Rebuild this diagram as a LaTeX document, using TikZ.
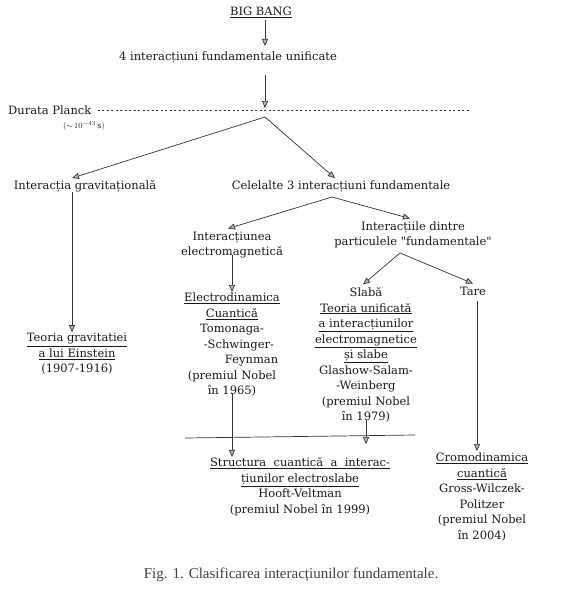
\documentclass[tikz,border=0pt]{standalone}
\usepackage{fontspec}
\setmainfont{DejaVu Serif}
\newfontfamily\capfont{Liberation Serif}
\usetikzlibrary{positioning,arrows.meta,calc}
\newcommand{\undl}[1]{\underline{#1}}
\tikzset{
  flowarrow/.style={-{Triangle[length=7pt,width=6pt,fill=gray!55]}, line width=0.7pt, black!80},
  plainline/.style={line width=0.7pt, black!80},
  lbl/.style={inner sep=0pt, align=center, font=\fontsize{11.5}{15.5}\selectfont, text=black!90},
  smalllbl/.style={inner sep=0pt, font=\fontsize{8}{9}\selectfont, text=black!85}
}
\begin{document}
\begin{tikzpicture}[x=1pt, y=-1pt]
  \useasboundingbox (0,0) rectangle (560,610);
  % top of the tree
  \node[lbl] (bigbang) at (261,12) {\undl{BIG BANG}};
  \node[lbl] (unif) at (228,57) {4 interacțiuni fundamentale unificate};
  \node[lbl, anchor=west] (planck) at (8,110) {Durata Planck};
  \node[smalllbl] (plancktime) at (84,126) {$(\sim\!10^{-43}$\,s$)$};
  \coordinate (bbfoot) at (265,20);
  \coordinate (uniftop) at (265,46);
  \coordinate (uniffoot) at (265,75);
  \coordinate (plk) at (265,108);
  \coordinate (apex) at (265,117);
  \coordinate (dashend) at (470,110);
  \draw[flowarrow] (bbfoot) -- (uniftop);
  \draw[flowarrow] (uniffoot) -- (plk);
  \draw[plainline, dashed, dash pattern=on 2pt off 2.5pt, line width=0.4pt] ([xshift=6pt]planck.east) -- (dashend);
  % first split
  \node[lbl] (grav) at (85,186) {Interacția gravitațională};
  \node[lbl] (rest) at (341,186) {Celelalte 3 interacțiuni fundamentale};
  \draw[flowarrow] (apex) -- ([xshift=-13pt,yshift=2pt]grav.north);
  \draw[flowarrow] (apex) -- ([xshift=-6pt,yshift=2pt]rest.north);
  % gravitation
  \node[lbl] (einst) at (77,354) {\undl{Teoria gravitatiei}\\ \undl{a lui Einstein}\\ (1907-1916)};
  \draw[flowarrow] ([xshift=-13pt]grav.south) -- ([xshift=-5pt,yshift=1pt]einst.north);
  % second split
  \coordinate (apex2) at (332,197);
  \node[lbl] (em) at (232,245) {Interacțiunea\\ electromagnetică};
  \node[lbl] (part) at (413,235) {Interacțiile dintre\\ particulele \textquotedbl fundamentale\textquotedbl};
  \draw[flowarrow] (apex2) -- ([xshift=-4pt,yshift=3pt]em.north);
  \draw[flowarrow] (apex2) -- ([xshift=-3pt,yshift=3pt]part.north);
  % electromagnetic branch
  \node[lbl] (qed) at (232,345) {\undl{Electrodinamica}\\ \undl{Cuantică}\\ Tomonaga-\hspace*{2.6em}\\ \hspace*{1.2em}-Schwinger-\\ \hspace*{3.4em}Feynman\\ (premiul Nobel\\ în 1965)};
  \draw[flowarrow] ([yshift=3pt]em.south) -- ([yshift=1pt]qed.north);
  % weak and strong
  \coordinate (apex3) at (400,253);
  \node[lbl] (weak) at (366,355) {Slabă\\ \undl{Teoria unificată}\\ \undl{a interacțiunilor}\\ \undl{electromagnetice}\\ \undl{și slabe}\\ Glashow-Salam-\\ -Weinberg\\ (premiul Nobel\\ în 1979)};
  \node[lbl] (tare) at (473,291) {Tare};
  \draw[flowarrow] (apex3) -- ([xshift=-3pt,yshift=3pt]weak.north);
  \draw[flowarrow] (apex3) -- ([yshift=3pt]tare.north);
  % bottom
  \node[lbl] (ew) at (300,487) {\undl{Structura\ \ cuantică\ \ a\ \ interac-}\\ \undl{țiunilor electroslabe}\\ Hooft-Veltman\\ (premiul Nobel în 1999)};
  \node[lbl] (qcd) at (482,497) {\undl{Cromodinamica}\\ \undl{cuantică}\\ Gross-Wilczek-\\ Politzer\\ (premiul Nobel\\ în 2004)};
  \coordinate (busl) at (185,438);
  \coordinate (busr) at (415,435);
  \coordinate (weaktip) at (366,444);
  \coordinate (tarefoot) at (477,301);
  \coordinate (qcdtip) at (477,451);
  \draw[plainline] (busl) -- (busr);
  \draw[flowarrow] ([yshift=4pt]qed.south) -- ([yshift=1pt]qed.south |- ew.north);
  \draw[flowarrow] ([yshift=3pt]weak.south) -- (weaktip);
  \draw[flowarrow] (tarefoot) -- (qcdtip);
  % caption
  \node[inner sep=0pt, font=\capfont\fontsize{15}{17}\selectfont, text=black!75] (caption) at (291,575) {Fig. 1. Clasificarea interacțiunilor fundamentale.};
\end{tikzpicture}
\end{document}
